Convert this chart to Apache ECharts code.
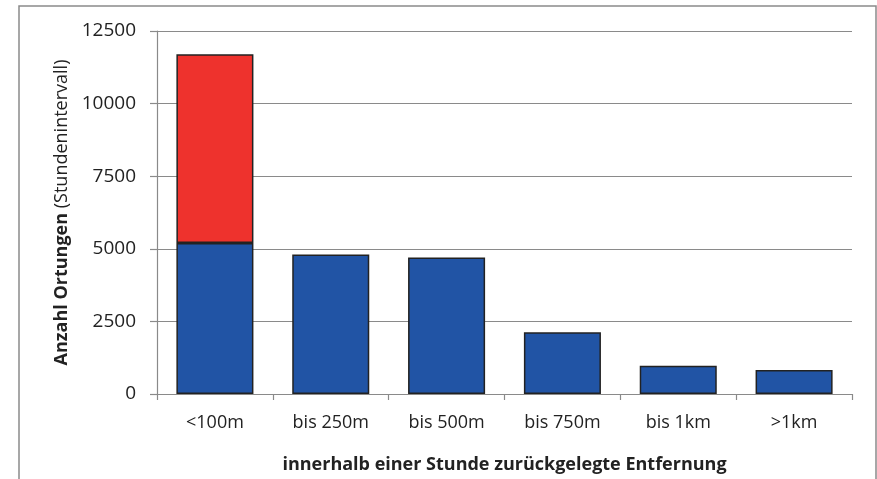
<!DOCTYPE html>
<html><head><meta charset="utf-8">
<script src="https://cdn.jsdelivr.net/npm/echarts@6/dist/echarts.min.js"></script>
<style>html,body{margin:0;padding:0;background:#fff}#c{width:877px;height:479px}</style>
</head><body><div id="c"></div>
<script>
const categories = ['<100m', 'bis 250m', 'bis 500m', 'bis 750m', 'bis 1km', '>1km'];
const blueValues = [5200, 4800, 4700, 2130, 970, 830];
const redValues = [6500, null, null, null, null, null];
const yTicks = [0, 2500, 5000, 7500, 10000, 12500];

const FONT = 'Open Sans';
const chart = echarts.init(document.getElementById('c'), null, {renderer: 'canvas'});
chart.setOption({
  backgroundColor: '#fff',
  animation: false,
  graphic: [{
    type: 'rect', shape: {x: 19, y: 6, width: 857, height: 500},
    style: {fill: 'none', stroke: '#8a8a8a', lineWidth: 1.5}, silent: true, z: -1
  }],
  grid: {left: 157, top: 31, right: 25, bottom: 85},
  xAxis: {
    type: 'category', data: categories,
    axisLine: {lineStyle: {color: '#8a8a8a', width: 1.2}},
    axisTick: {show: true, length: 6, lineStyle: {color: '#8a8a8a', width: 1.2}},
    axisLabel: {fontFamily: FONT, fontSize: 18, color: '#222', margin: 20},
    name: 'innerhalb einer Stunde zurückgelegte Entfernung',
    nameLocation: 'middle', nameGap: 62,
    nameTextStyle: {fontFamily: FONT, fontSize: 18, fontWeight: 'bold', color: '#222'}
  },
  yAxis: {
    type: 'value', min: yTicks[0], max: yTicks[yTicks.length - 1], interval: 2500,
    axisLine: {show: true, lineStyle: {color: '#8a8a8a', width: 1.2}},
    axisTick: {show: true, length: 7, lineStyle: {color: '#8a8a8a', width: 1.2}},
    splitLine: {lineStyle: {color: '#8a8a8a', width: 1.2}},
    axisLabel: {fontFamily: FONT, fontSize: 19, color: '#222', margin: 21,
                formatter: v => String(v)},
    name: '{tb|Anzahl Ortungen}{tr| (Stundenintervall)}',
    nameLocation: 'middle', nameGap: 85, nameRotate: 90,
    nameTextStyle: {
      fontFamily: FONT, fontSize: 18, color: '#222',
      rich: {
        tb: {fontFamily: FONT, fontSize: 18, fontWeight: 'bold', color: '#222'},
        tr: {fontFamily: FONT, fontSize: 18, fontWeight: 'normal', color: '#222'}
      }
    }
  },
  series: [
    {type: 'bar', stack: 'a', data: blueValues, barWidth: '66.5%',
     itemStyle: {color: '#2154a5', borderColor: '#222', borderWidth: 1.5}},
    {type: 'bar', stack: 'a', data: redValues, barWidth: '66.5%',
     itemStyle: {color: '#ee322d', borderColor: '#222', borderWidth: 1.5}}
  ]
});
</script></body></html>
